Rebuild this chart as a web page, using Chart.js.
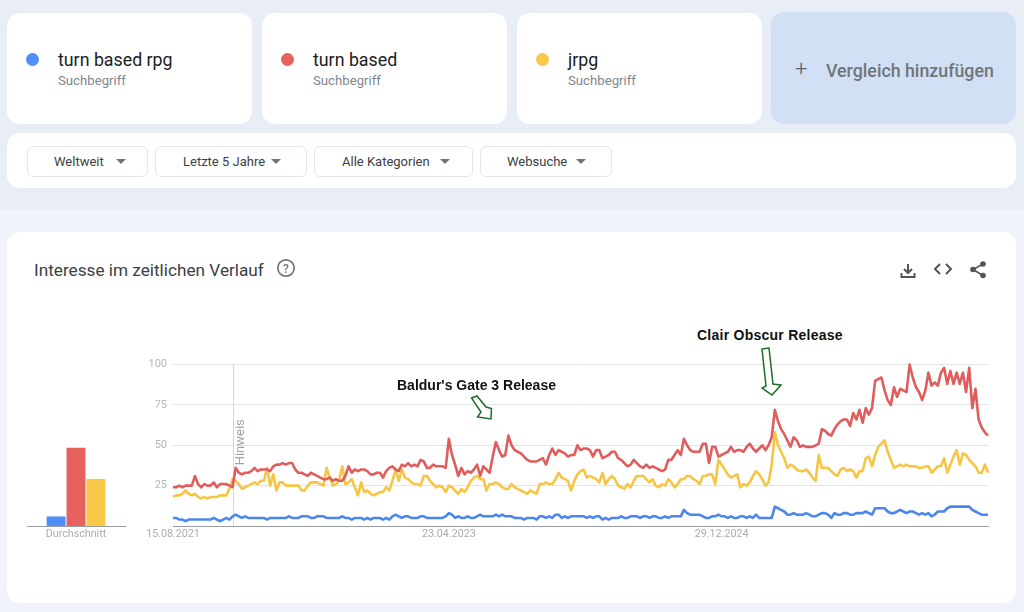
<!DOCTYPE html>
<html lang="de">
<head>
  <meta charset="UTF-8">
  <title>Interesse im zeitlichen Verlauf</title>
  <script src="https://cdn.jsdelivr.net/npm/chart.js@4"></script>
  <style>
    html, body { margin: 0; padding: 0; }
    body { width: 1024px; height: 612px; background: #e9eef6; position: relative; overflow: hidden; font-family: Roboto, sans-serif; }
    .band { position: absolute; left: 0; top: 209px; width: 1024px; height: 403px; background: #f0f3fa; }
    .box { position: absolute; background: #fff; border-radius: 13px; box-sizing: border-box; }
    .term { top: 13px; width: 245px; height: 111px; }
    .dot { position: absolute; left: 19px; top: 40px; width: 13px; height: 13px; border-radius: 50%; }
    .name { position: absolute; left: 51px; top: 36px; font-size: 17.8px; color: #202124; }
    .sub { position: absolute; left: 51px; top: 60px; font-size: 13.2px; color: #80868b; }
    .btn { position: absolute; top: 146px; height: 31px; background: #fff; border: 1px solid #e3e6ea; border-radius: 6px; box-sizing: border-box; font-size: 13px; color: #3c4043; line-height: 29px; }
    .btn span { position: absolute; top: 0; white-space: nowrap; }
    .btn i { position: absolute; top: 12px; width: 0; height: 0; border-left: 5px solid transparent; border-right: 5px solid transparent; border-top: 5px solid #70757a; }
    .title { position: absolute; left: 34px; top: 260px; font-size: 17.2px; color: #3c4043; white-space: nowrap; }
    .note { position: absolute; font: bold 14px "Liberation Sans", Arial, sans-serif; color: #111; white-space: nowrap; }
    canvas { position: absolute; }
    svg { position: absolute; left: 0; top: 0; }
  </style>
</head>
<body>
  <div class="band"></div>
  <div class="box term" style="left:7px"><div class="dot" style="background:#4f8ff7"></div><div class="name">turn based rpg</div><div class="sub">Suchbegriff</div></div>
  <div class="box term" style="left:262px"><div class="dot" style="background:#e5625e"></div><div class="name">turn based</div><div class="sub">Suchbegriff</div></div>
  <div class="box term" style="left:517px"><div class="dot" style="background:#f9c846"></div><div class="name">jrpg</div><div class="sub">Suchbegriff</div></div>
  <div class="box" style="left:771px;top:12px;width:245px;height:112px;background:#d2e0f6">
    <div style="position:absolute;left:24px;top:46px;font-size:22px;font-weight:300;color:#5f6368;line-height:22px">+</div>
    <div style="position:absolute;left:55px;top:48px;font-size:17.8px;font-weight:500;color:#70757a;white-space:nowrap">Vergleich hinzufügen</div>
  </div>

  <div class="box" style="left:7px;top:133px;width:1009px;height:55px"></div>
  <div class="btn" style="left:27px;width:121px"><span style="left:26px">Weltweit</span><i style="left:88px"></i></div>
  <div class="btn" style="left:155px;width:152px"><span style="left:27px">Letzte 5 Jahre</span><i style="left:115px"></i></div>
  <div class="btn" style="left:314px;width:159px"><span style="left:27px">Alle Kategorien</span><i style="left:125px"></i></div>
  <div class="btn" style="left:480px;width:132px"><span style="left:26px">Websuche</span><i style="left:95px"></i></div>

  <div class="box" style="left:7px;top:232px;width:1009px;height:371px"></div>
  <div class="title">Interesse im zeitlichen Verlauf</div>

  <canvas id="avgChart" style="left:17px;top:428px;width:118px;height:118px"></canvas>
  <canvas id="trendChart" style="left:130px;top:352px;width:870px;height:198px"></canvas>

  <div class="note" style="left:397px;top:377px">Baldur's Gate 3 Release</div>
  <div class="note" style="left:697px;top:327px;letter-spacing:.25px">Clair Obscur Release</div>

  <svg width="1024" height="612">
    <!-- help icon -->
    <circle cx="286" cy="268" r="8.2" fill="none" stroke="#70757a" stroke-width="1.7"/>
    <text x="286" y="272.5" text-anchor="middle" font-family="Roboto" font-size="12" font-weight="500" fill="#70757a">?</text>
    <!-- download -->
    <path d="M908 264v8M904 269l4 4 4-4M901.500 273v4h13v-4" fill="none" stroke="#50555a" stroke-width="2"/>
    <!-- embed -->
    <path d="M940 264l-5 5 5 5M946 264l5 5-5 5" fill="none" stroke="#50555a" stroke-width="2"/>
    <!-- share -->
    <path d="M983 264l-10 5.500 10 6" fill="none" stroke="#50555a" stroke-width="1.600"/>
    <circle cx="983" cy="264" r="2.800" fill="#50555a"/><circle cx="973" cy="269.500" r="2.800" fill="#50555a"/><circle cx="983" cy="275.500" r="2.800" fill="#50555a"/>
    <!-- release arrows -->
    <path d="M471.500 398L477 396L486 407L491.500 408.500L491 419L477.500 417L481 412Z" fill="#fff" stroke="#1c6b28" stroke-width="1.500"/>
    <path d="M762 349L769 348L773 384L781 385L772 395L762 388L766 386Z" fill="#fff" stroke="#1c6b28" stroke-width="1.500"/>
  </svg>

  <script>
    // weekly values
    const turnBasedRpg = [
      5,5,4,4,3,4,4,4,4,4, 4,4,4,5,4,3,4,5,4,6, 7,6,5,6,5,5,5,5,5,5, 4,5,5,5,5,5,5,6,5,5,
      5,6,6,6,5,5,6,6,6,5, 5,5,5,5,6,5,5,4,5,5, 5,4,5,4,5,5,5,4,5,4, 6,7,6,5,6,6,5,5,5,6,
      6,5,5,5,5,5,5,6,8,7, 5,6,5,5,6,5,5,6,7,6, 6,6,6,7,6,7,6,6,6,5, 5,5,4,5,5,5,4,6,6,5,
      6,5,7,7,5,6,5,6,6,6, 6,6,5,6,5,6,6,4,5,4, 5,5,5,6,5,5,6,6,6,5, 6,6,5,6,6,5,5,6,5,6,
      6,6,6,10,8,7,7,7,7,6, 5,5,6,6,7,6,6,5,6,5, 5,6,6,5,6,5,7,5,5,5, 5,5,12,11,10,9,7,7,8,7,
      7,7,8,7,6,6,7,8,8,7, 5,8,7,7,8,8,7,7,8,8, 8,9,8,7,11,11,11,11,9,8, 8,9,10,9,8,9,9,8,7,8,
      7,8,6,7,9,9,9,11,12,12, 12,12,12,12,12,10,9,8,7,7,7
    ];
    const turnBased = [
      24,24,25,24,25,25,25,31,26,24, 26,25,25,27,24,26,26,26,25,24, 36,33,32,33,33,34,36,34,35,35,
      35,34,37,38,38,39,38,39,39,35, 33,33,32,31,33,32,31,30,29,29, 30,28,29,28,28,31,37,33,35,34,
      35,35,34,32,32,33,33,30,34,36, 37,35,34,38,37,39,37,38,37,41, 40,36,36,38,37,37,37,36,54,44,
      38,31,36,32,34,33,35,38,31,37, 35,33,43,52,47,43,44,56,50,47, 46,45,43,41,40,40,40,41,42,38,
      44,48,44,47,46,45,43,44,44,50, 47,48,48,47,43,47,47,42,43,44, 46,46,42,41,39,37,38,41,39,37,
      36,38,36,37,36,35,34,35,41,41, 44,47,44,54,50,47,46,46,46,51, 51,39,49,49,43,44,45,46,49,46,
      47,47,46,49,51,48,46,48,50,47, 50,55,72,65,60,57,53,49,55,53, 49,50,49,49,49,50,51,60,59,57,
      56,60,63,65,66,66,62,70,66,72, 64,73,69,73,90,91,92,84,78,75, 86,80,85,84,83,100,92,86,83,78,
      84,95,87,89,87,95,98,88,96,88, 95,88,95,83,98,73,85,66,61,58,56
    ];
    const jrpg = [
      18,19,19,20,22,20,19,20,18,17, 18,17,18,18,18,19,19,19,23,29, 28,26,23,24,25,26,27,26,28,28,
      36,25,32,22,27,27,25,25,25,25, 25,22,22,25,27,27,27,26,25,36, 30,25,26,28,37,26,27,29,24,19,
      27,21,22,20,19,20,21,21,24,22, 28,35,28,35,30,29,27,26,26,25, 31,31,28,26,24,25,24,21,25,24,
      22,20,23,21,24,28,30,31,29,29, 22,26,26,27,26,24,23,23,26,24, 23,22,21,20,22,21,20,26,26,27,
      26,26,29,33,30,29,28,22,28,32, 34,35,30,31,30,29,27,33,26,29, 31,29,25,24,23,26,24,28,31,31,
      31,29,27,29,25,24,26,25,29,27, 24,26,29,29,31,31,29,28,26,31, 31,32,32,26,41,38,35,32,30,31,
      32,24,26,25,27,31,34,32,29,25, 27,38,58,50,46,42,36,38,37,35, 34,34,35,33,30,28,44,36,36,36,
      34,32,31,35,36,34,35,34,30,34, 34,42,43,37,44,49,51,53,46,41, 36,37,38,37,38,37,37,37,36,36,
      37,37,33,35,37,37,42,33,38,43, 47,38,45,44,41,39,37,33,33,38,33
    ];
    const averages = [6, 48, 29];
    const seriesNames = ["turn based rpg", "turn based", "jrpg"];
    const seriesColors = ["#4f8ff7", "#e5625e", "#f9c846"];
    const lineColors = ["#4a86ee", "#e05d5d", "#f6c544"];
    const yTicks = [25, 50, 75, 100];
    const xTickWeeks = [0, 88, 175];
    const xTickLabels = ["15.08.2021", "23.04.2023", "29.12.2024"];
    const noteWeek = 19;

    const weeks = turnBased.map((_, i) => i);

    // thin vertical marker with the rotated "Hinweis" label
    const notePlugin = {
      id: "noteLine",
      beforeDatasetsDraw(chart) {
        const ctx = chart.ctx;
        const x = chart.scales.x.getPixelForValue(noteWeek);
        const top = chart.scales.y.getPixelForValue(100);
        const bottom = chart.scales.y.getPixelForValue(0);
        ctx.save();
        ctx.strokeStyle = "#d5d7da";
        ctx.lineWidth = 1;
        ctx.beginPath();
        ctx.moveTo(Math.round(x) + 0.5, top);
        ctx.lineTo(Math.round(x) + 0.5, bottom);
        ctx.stroke();
        ctx.translate(x + 11, chart.scales.y.getPixelForValue(37.6));
        ctx.rotate(-Math.PI / 2);
        ctx.fillStyle = "#a0a4a8";
        ctx.font = "13px Roboto";
        ctx.fillText("Hinweis", 0, 0);
        ctx.restore();
      }
    };

    new Chart(document.getElementById("trendChart"), {
      type: "line",
      plugins: [notePlugin],
      data: {
        labels: weeks,
        datasets: [turnBasedRpg, turnBased, jrpg].map((values, i) => ({
          label: seriesNames[i],
          data: values,
          borderColor: lineColors[i],
          borderWidth: 2.6,
          pointRadius: 0,
          tension: 0,
          borderJoinStyle: "round",
          clip: false
        }))
      },
      options: {
        responsive: false,
        animation: false,
        layout: { padding: { top: 8, right: 12 } },
        plugins: { legend: { display: false }, tooltip: { enabled: false } },
        scales: {
          x: {
            type: "category",
            offset: false,
            afterFit: s => { s.height = 24; },
            grid: { display: false, drawTicks: false },
            border: { color: "#9a9da1" },
            ticks: {
              autoSkip: false, maxRotation: 0, padding: 2,
              color: "#a8acb0", font: { family: "Roboto", size: 10.7 },
              callback: (v, i) => {
                const k = xTickWeeks.indexOf(i);
                return k < 0 ? "" : xTickLabels[k];
              }
            }
          },
          y: {
            min: 0, max: 100,
            afterFit: s => { s.width = 43; },
            afterBuildTicks: s => { s.ticks = yTicks.map(value => ({ value })); },
            grid: { color: "#e3e4e6", drawTicks: false },
            border: { display: false },
            ticks: { padding: 6, color: "#b4b8bc", font: { family: "Roboto", size: 11 } }
          }
        }
      }
    });

    new Chart(document.getElementById("avgChart"), {
      type: "bar",
      data: {
        labels: ["Durchschnitt"],
        datasets: averages.map((v, i) => ({
          label: seriesNames[i],
          data: [v],
          backgroundColor: seriesColors[i],
          borderColor: "#fff",
          borderWidth: { left: 0.5, right: 0.5 },
          categoryPercentage: 0.61,
          barPercentage: 1
        }))
      },
      options: {
        responsive: false,
        animation: false,
        layout: { padding: { left: 10, right: 10 } },
        plugins: { legend: { display: false }, tooltip: { enabled: false } },
        scales: {
          x: {
            afterFit: s => { s.height = 20; },
            grid: { display: false, drawTicks: false },
            border: { color: "#9a9da1" },
            ticks: { padding: 2, color: "#a8acb0", font: { family: "Roboto", size: 10.7 } }
          },
          y: { display: false, min: 0, max: 60 }
        }
      }
    });
  </script>
</body>
</html>
